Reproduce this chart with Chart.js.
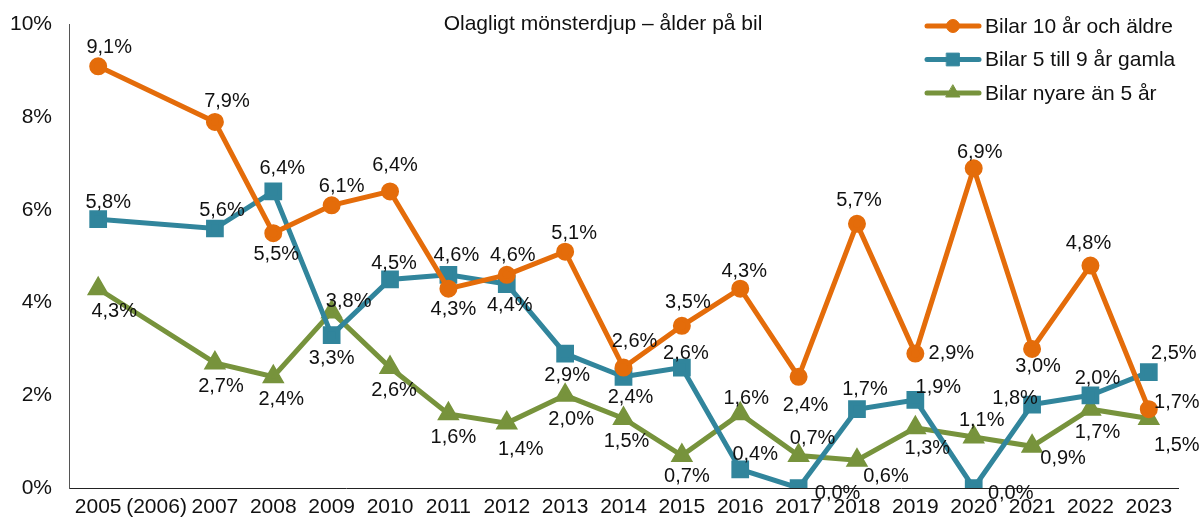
<!DOCTYPE html>
<html>
<head>
<meta charset="utf-8">
<script src="https://cdn.jsdelivr.net/npm/chart.js@4.4.1/dist/chart.umd.min.js"></script>
<style>
  html, body { margin: 0; padding: 0; background: #fff; }
  #wrap { width: 1200px; height: 518px; }
</style>
</head>
<body>
<div id="wrap"><canvas id="chart" width="1200" height="518"></canvas></div>
<script>
// Chart data
const years = ['2005', '(2006)', '2007', '2008', '2009', '2010', '2011', '2012', '2013', '2014',
    '2015', '2016', '2017', '2018', '2019', '2020', '2021', '2022', '2023'];
const older10 = [9.1, null, 7.9, 5.5, 6.1, 6.4, 4.3, 4.6, 5.1, 2.6, 3.5, 4.3, 2.4, 5.7, 2.9, 6.9, 3.0, 4.8, 1.7];
const age5to9 = [5.8, null, 5.6, 6.4, 3.3, 4.5, 4.6, 4.4, 2.9, 2.4, 2.6, 0.4, 0.0, 1.7, 1.9, 0.0, 1.8, 2.0, 2.5];
const newer5 = [4.3, null, 2.7, 2.4, 3.8, 2.6, 1.6, 1.4, 2.0, 1.5, 0.7, 1.6, 0.7, 0.6, 1.3, 1.1, 0.9, 1.7, 1.5];
const yTicks = [0, 2, 4, 6, 8, 10];
const titleText = 'Olagligt mönsterdjup – ålder på bil';

// label placement: offset of each value label's centre from its point, in px
const older10Off = [[11, -20], null, [12, -21], [3, 20], [10, -20], [5, -27], [5, 20], [6, -20], [9, -19],
    [11, -27], [6, -24], [4, -18], [7, 28], [2, -24], [36, -1], [6, -17], [6, 17], [-2, -23], [28, -8]];
const age5to9Off = [[10, -18], null, [7, -19], [9, -24], [0, 22], [4, -17], [8, -20], [3, 20], [2, 21],
    [7, 20], [4, -15], [15, -16], [39, 4], [8, -21], [23, -13], [37, 4], [-17, -7], [7, -18], [25, -20]];
const newer5Off = [[16, 22], null, [6, 23], [8, 22], [17, -11], [4, 22], [5, 23], [14, 25], [6, 23],
    [3, 22], [5, 20], [6, -16], [14, -18], [29, 15], [12, 20], [8, -18], [31, 11], [7, 22], [28, 26]];

const FONT = '"Liberation Sans", Arial, Helvetica, sans-serif';

// simple percent formatter with a decimal comma
const fmt = v => v.toFixed(1).replace('.', ',') + '%';

// draws value labels next to each point
const pointLabels = {
    id: 'pointLabels',
    afterDatasetsDraw(chart) {
        const ctx = chart.ctx;
        ctx.save();
        ctx.font = '20px ' + FONT;
        ctx.fillStyle = '#111';
        ctx.textAlign = 'center';
        ctx.textBaseline = 'middle';
        chart.data.datasets.forEach((ds, i) => {
            const meta = chart.getDatasetMeta(i);
            meta.data.forEach((pt, j) => {
                const v = ds.data[j];
                const off = ds.labelOff[j];
                if (v === null || v === undefined || !off) return;
                ctx.fillText(fmt(v), pt.x + off[0], pt.y + off[1] + 1);
            });
        });
        ctx.restore();
    }
};

// title and legend are drawn inside the plot area like in the original
const extras = {
    id: 'extras',
    afterDraw(chart) {
        const ctx = chart.ctx;
        ctx.save();
        ctx.font = '21px ' + FONT;
        ctx.fillStyle = '#111';
        ctx.textAlign = 'center';
        ctx.textBaseline = 'middle';
        ctx.fillText(titleText, 603, 24);

        ctx.textAlign = 'left';
        chart.data.datasets.forEach((ds, i) => {
            const y = 26 + i * 33.5;
            ctx.strokeStyle = ds.borderColor;
            ctx.lineWidth = 5;
            ctx.lineCap = 'round';
            ctx.beginPath();
            ctx.moveTo(927, y);
            ctx.lineTo(979, y);
            ctx.stroke();
            ctx.fillStyle = ds.borderColor;
            ctx.lineWidth = 1;
            Chart.helpers.drawPoint(ctx, {
                pointStyle: ds.pointStyle,
                radius: ds.pointRadius,
                borderWidth: 1,
                rotation: 0
            }, 953, y);
            ctx.fillStyle = '#111';
            ctx.fillText(ds.label, 985, y + 1);
        });
        ctx.restore();
    }
};

const makeSet = (label, data, color, style, size, off) => ({
    label,
    data,
    labelOff: off,
    borderColor: color,
    backgroundColor: color,
    pointBackgroundColor: color,
    pointBorderColor: color,
    borderWidth: 5,
    pointStyle: style,
    pointRadius: size,
    spanGaps: true,
    tension: 0
});

new Chart(document.getElementById('chart'), {
    type: 'line',
    data: {
        labels: years,
        datasets: [
            makeSet('Bilar 10 år och äldre', older10, '#E46C0A', 'circle', 6.5, older10Off),
            makeSet('Bilar 5 till 9 år gamla', age5to9, '#31859C', 'rect', 9, age5to9Off),
            makeSet('Bilar nyare än 5 år', newer5, '#77933C', 'triangle', 8, newer5Off)
        ]
    },
    options: {
        responsive: false,
        animation: false,
        layout: { padding: { top: 23, right: 22, left: 0, bottom: 0 } },
        plugins: {
            legend: { display: false },
            tooltip: { enabled: false }
        },
        scales: {
            x: {
                offset: true,
                grid: { display: false, drawTicks: false },
                border: { color: '#222', width: 1 },
                ticks: {
                    color: '#111',
                    font: { family: FONT, size: 21 },
                    padding: 7,
                    maxRotation: 0,
                    autoSkip: false
                },
                afterFit: s => { s.height = 30; }
            },
            y: {
                min: 0,
                max: 10,
                afterBuildTicks: s => { s.ticks = yTicks.map(v => ({ value: v })); },
                grid: { display: false, drawTicks: true, tickLength: 5 },
                border: { color: '#555', width: 1 },
                ticks: {
                    color: '#111',
                    font: { family: FONT, size: 21 },
                    padding: 12,
                    callback: v => v + '%'
                },
                afterFit: s => { s.width = 69; }
            }
        }
    },
    plugins: [pointLabels, extras]
});
</script>
</body>
</html>
